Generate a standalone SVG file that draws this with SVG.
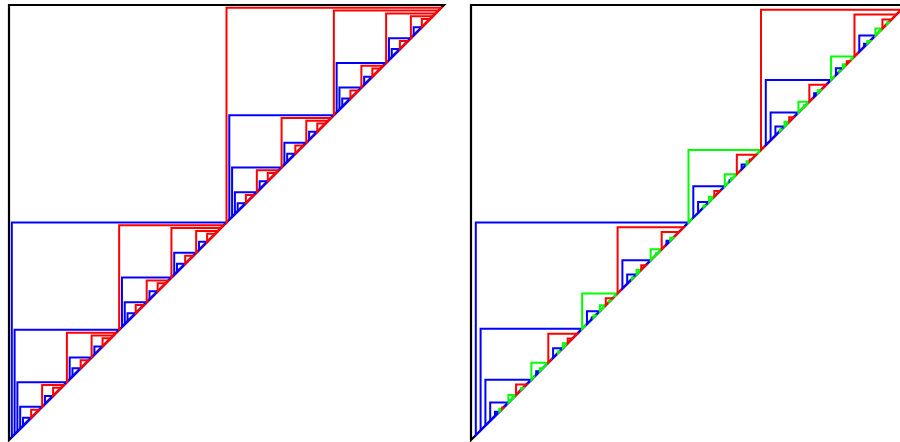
<svg xmlns="http://www.w3.org/2000/svg" xmlns:xlink="http://www.w3.org/1999/xlink" width="900" height="442" viewBox="0 0 900 442">
<style>
path,use{fill:none;stroke-width:2;stroke-linejoin:miter}
.k{stroke:#000;stroke-width:2.2}
.b{stroke:#0000ff}
.r{stroke:#ff0000}
.g{stroke:#00ff00}
</style>
<defs>
<path id="a1" d="M0 0h214.7l-214.7 214.7z"/>
<path id="a2" d="M0 0h104.55l-104.55 104.55z"/>
<path id="a3" d="M0 0h49.48l-49.48 49.48z"/>
<path id="a4" d="M0 0h21.94l-21.94 21.94z"/>
<path id="a5" d="M0 0h8.17l-8.17 8.17z"/>
</defs>
<rect width="900" height="442" fill="#fff"/>
<g id="left" transform="translate(9 5)">
<path class="k" d="M0 0h435l-435 435z"/>
<use href="#a1" class="b" x="2.8" y="217.5"/>
<use href="#a1" class="r" x="217.5" y="2.8"/>
<use href="#a2" class="b" x="5.6" y="324.85"/>
<use href="#a2" class="r" x="110.15" y="220.3"/>
<use href="#a2" class="b" x="220.3" y="110.15"/>
<use href="#a2" class="r" x="324.85" y="5.6"/>
<use href="#a3" class="b" x="8.4" y="377.13"/>
<use href="#a3" class="r" x="57.88" y="327.65"/>
<use href="#a3" class="b" x="112.95" y="272.58"/>
<use href="#a3" class="r" x="162.43" y="223.1"/>
<use href="#a3" class="b" x="223.1" y="162.43"/>
<use href="#a3" class="r" x="272.58" y="112.95"/>
<use href="#a3" class="b" x="327.65" y="57.88"/>
<use href="#a3" class="r" x="377.13" y="8.4"/>
<use href="#a4" class="b" x="11.2" y="401.86"/>
<use href="#a4" class="r" x="33.14" y="379.93"/>
<use href="#a4" class="b" x="60.68" y="352.39"/>
<use href="#a4" class="r" x="82.61" y="330.45"/>
<use href="#a4" class="b" x="115.75" y="297.31"/>
<use href="#a4" class="r" x="137.69" y="275.38"/>
<use href="#a4" class="b" x="165.23" y="247.84"/>
<use href="#a4" class="r" x="187.16" y="225.9"/>
<use href="#a4" class="b" x="225.9" y="187.16"/>
<use href="#a4" class="r" x="247.84" y="165.23"/>
<use href="#a4" class="b" x="275.38" y="137.69"/>
<use href="#a4" class="r" x="297.31" y="115.75"/>
<use href="#a4" class="b" x="330.45" y="82.61"/>
<use href="#a4" class="r" x="352.39" y="60.68"/>
<use href="#a4" class="b" x="379.93" y="33.14"/>
<use href="#a4" class="r" x="401.86" y="11.2"/>
<use href="#a5" class="b" x="14" y="412.83"/>
<use href="#a5" class="r" x="22.17" y="404.66"/>
<use href="#a5" class="b" x="35.94" y="390.89"/>
<use href="#a5" class="r" x="44.11" y="382.73"/>
<use href="#a5" class="b" x="63.48" y="363.36"/>
<use href="#a5" class="r" x="71.64" y="355.19"/>
<use href="#a5" class="b" x="85.41" y="341.42"/>
<use href="#a5" class="r" x="93.58" y="333.25"/>
<use href="#a5" class="b" x="118.55" y="308.28"/>
<use href="#a5" class="r" x="126.72" y="300.11"/>
<use href="#a5" class="b" x="140.49" y="286.34"/>
<use href="#a5" class="r" x="148.66" y="278.18"/>
<use href="#a5" class="b" x="168.03" y="258.81"/>
<use href="#a5" class="r" x="176.19" y="250.64"/>
<use href="#a5" class="b" x="189.96" y="236.87"/>
<use href="#a5" class="r" x="198.13" y="228.7"/>
<use href="#a5" class="b" x="228.7" y="198.13"/>
<use href="#a5" class="r" x="236.87" y="189.96"/>
<use href="#a5" class="b" x="250.64" y="176.19"/>
<use href="#a5" class="r" x="258.81" y="168.03"/>
<use href="#a5" class="b" x="278.18" y="148.66"/>
<use href="#a5" class="r" x="286.34" y="140.49"/>
<use href="#a5" class="b" x="300.11" y="126.72"/>
<use href="#a5" class="r" x="308.28" y="118.55"/>
<use href="#a5" class="b" x="333.25" y="93.58"/>
<use href="#a5" class="r" x="341.42" y="85.41"/>
<use href="#a5" class="b" x="355.19" y="71.64"/>
<use href="#a5" class="r" x="363.36" y="63.48"/>
<use href="#a5" class="b" x="382.73" y="44.11"/>
<use href="#a5" class="r" x="390.89" y="35.94"/>
<use href="#a5" class="b" x="404.66" y="22.17"/>
<use href="#a5" class="r" x="412.83" y="14"/>
</g>
<g id="right" transform="translate(471 5)">
<path class="k" d="M0 0h435l-435 435z"/>
<path class="b" d="M4.8 217.5h212.7l-212.7 212.7z"/>
<path class="g" d="M217.5 145h72.5l-72.5 72.5z"/>
<path class="r" d="M290 4.8h140.2l-140.2 140.2z"/>
<path class="b" d="M9.6 323.85h101.55l-101.55 101.55z"/>
<path class="g" d="M111.15 288.4h35.45l-35.45 35.45z"/>
<path class="r" d="M146.6 222.3h66.1l-66.1 66.1z"/>
<path class="b" d="M222.3 181.25h31.45l-31.45 31.45z"/>
<path class="g" d="M253.75 169.17h12.08l-12.08 12.08z"/>
<path class="r" d="M265.83 149.8h19.37l-19.37 19.37z"/>
<path class="b" d="M294.8 74.9h65.3l-65.3 65.3z"/>
<path class="g" d="M360.1 51.53h23.37l-23.37 23.37z"/>
<path class="r" d="M383.47 9.6h41.93l-41.93 41.93z"/>
<path class="b" d="M14.4 374.63h45.98l-45.98 45.98z"/>
<path class="g" d="M60.38 357.7h16.93l-16.93 16.93z"/>
<path class="r" d="M77.3 328.65h29.05l-29.05 29.05z"/>
<path class="b" d="M115.95 306.13h12.93l-12.93 12.93z"/>
<path class="g" d="M128.88 300.22h5.91l-5.91 5.91z"/>
<path class="r" d="M134.78 293.2h7.02l-7.02 7.02z"/>
<path class="b" d="M151.4 255.35h28.25l-28.25 28.25z"/>
<path class="g" d="M179.65 244.33h11.02l-11.02 11.02z"/>
<path class="r" d="M190.67 227.1h17.23l-17.23 17.23z"/>
<path class="b" d="M227.1 196.98h10.93l-10.93 10.93z"/>
<path class="g" d="M238.03 191.73h5.24l-5.24 5.24z"/>
<path class="r" d="M243.27 186.05h5.68l-5.68 5.68z"/>
<path class="b" d="M258.55 175.21h1.24l-1.24 1.24z"/>
<path class="g" d="M259.79 173.19h2.01l-2.01 2.01z"/>
<path class="b" d="M270.63 159.48h4.88l-4.88 4.88z"/>
<path class="g" d="M275.52 156.26h3.23l-3.23 3.23z"/>
<path class="r" d="M278.74 154.6h1.66l-1.66 1.66z"/>
<path class="b" d="M299.6 107.55h27.85l-27.85 27.85z"/>
<path class="g" d="M327.45 96.67h10.88l-10.88 10.88z"/>
<path class="r" d="M338.33 79.7h16.97l-16.97 16.97z"/>
<path class="b" d="M364.9 63.22h6.88l-6.88 6.88z"/>
<path class="g" d="M371.78 59.32h3.89l-3.89 3.89z"/>
<path class="r" d="M375.68 56.33h2.99l-2.99 2.99z"/>
<path class="b" d="M388.27 30.57h16.17l-16.17 16.17z"/>
<path class="g" d="M404.43 23.58h6.99l-6.99 6.99z"/>
<path class="r" d="M411.42 14.4h9.18l-9.18 9.18z"/>
<path class="b" d="M19.2 397.61h18.19l-18.19 18.19z"/>
<path class="g" d="M37.39 389.95h7.66l-7.66 7.66z"/>
<path class="r" d="M45.05 379.43h10.53l-10.53 10.53z"/>
<path class="b" d="M65.18 366.16h3.66l-3.66 3.66z"/>
<path class="g" d="M68.84 363.34h2.82l-2.82 2.82z"/>
<path class="b" d="M82.1 343.18h9.73l-9.73 9.73z"/>
<path class="g" d="M91.83 338.33h4.84l-4.84 4.84z"/>
<path class="r" d="M96.67 333.45h4.88l-4.88 4.88z"/>
<path class="b" d="M120.75 312.59h1.66l-1.66 1.66z"/>
<path class="g" d="M122.41 310.43h2.15l-2.15 2.15z"/>
<path class="g" d="M138.29 295.54h1.17l-1.17 1.17z"/>
<path class="b" d="M156.2 269.48h9.33l-9.33 9.33z"/>
<path class="g" d="M165.53 264.77h4.71l-4.71 4.71z"/>
<path class="r" d="M170.23 260.15h4.62l-4.62 4.62z"/>
<path class="g" d="M185.16 248.01h1.84l-1.84 1.84z"/>
<path class="b" d="M195.47 235.72h3.82l-3.82 3.82z"/>
<path class="g" d="M199.28 232.84h2.87l-2.87 2.87z"/>
<path class="g" d="M232.56 200.62h1.82l-1.82 1.82z"/>
<path class="b" d="M304.4 121.48h9.13l-9.13 9.13z"/>
<path class="g" d="M313.53 116.83h4.64l-4.64 4.64z"/>
<path class="r" d="M318.17 112.35h4.48l-4.48 4.48z"/>
<path class="g" d="M332.89 100.29h1.81l-1.81 1.81z"/>
<path class="b" d="M343.13 88.18h3.68l-3.68 3.68z"/>
<path class="g" d="M346.82 85.36h2.83l-2.83 2.83z"/>
<path class="g" d="M368.34 65.51h1.15l-1.15 1.15z"/>
<path class="b" d="M393.07 38.65h3.28l-3.28 3.28z"/>
<path class="g" d="M396.35 35.96h2.69l-2.69 2.69z"/>
<path class="g" d="M407.93 25.91h1.17l-1.17 1.17z"/>
<path class="g" d="M416.01 17.46h1.53l-1.53 1.53z"/>
<path class="b" d="M24 406.71h4.29l-4.29 4.29z"/>
<path class="g" d="M28.29 403.68h3.03l-3.03 3.03z"/>
<path class="r" d="M31.33 402.41h1.26l-1.26 1.26z"/>
<path class="g" d="M41.22 392.5h1.28l-1.28 1.28z"/>
<path class="g" d="M50.31 382.93h1.75l-1.75 1.75z"/>
<path class="g" d="M86.96 346.42h1.62l-1.62 1.62z"/>
<path class="g" d="M160.86 272.58h1.55l-1.55 1.55z"/>
<path class="g" d="M308.96 124.52h1.52l-1.52 1.52z"/>
</g>
</svg>
